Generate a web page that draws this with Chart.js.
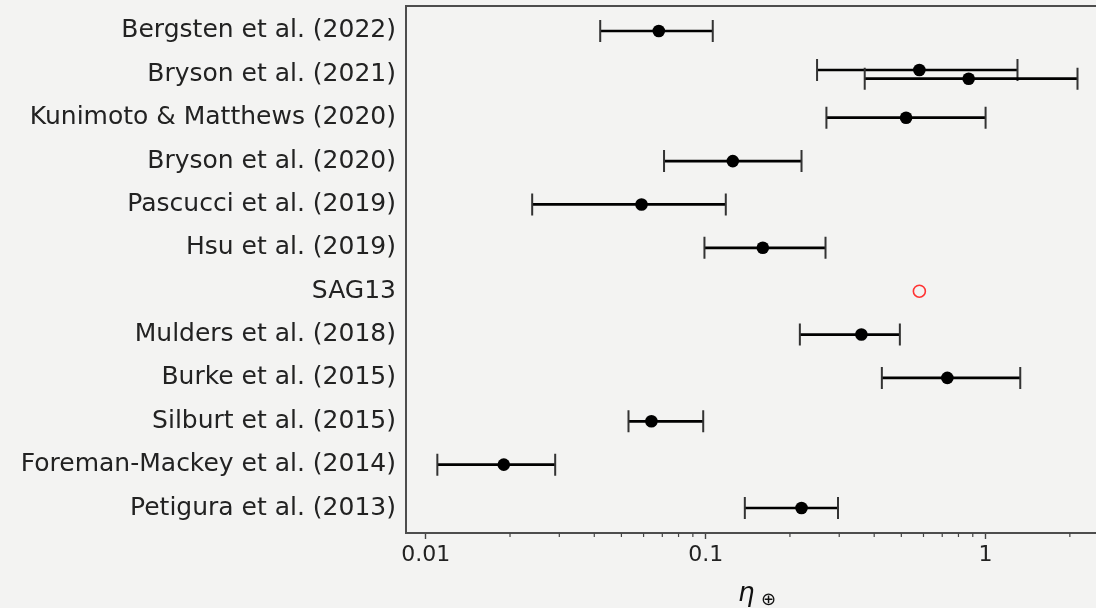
<!DOCTYPE html>
<html>
<head>
<meta charset="utf-8">
<script src="https://cdn.jsdelivr.net/npm/chart.js@4/dist/chart.umd.min.js"></script>
<style>
	html, body { margin: 0; padding: 0; background: #f3f3f2; }
	#chart { display: block; }
</style>
</head>
<body>
<canvas id="chart" width="1096" height="608"></canvas>
<script>
const studies = [
	'Bergsten et al. (2022)',
	'Bryson et al. (2021)',
	'Kunimoto & Matthews (2020)',
	'Bryson et al. (2020)',
	'Pascucci et al. (2019)',
	'Hsu et al. (2019)',
	'SAG13',
	'Mulders et al. (2018)',
	'Burke et al. (2015)',
	'Silburt et al. (2015)',
	'Foreman-Mackey et al. (2014)',
	'Petigura et al. (2013)'
];

// published estimates (black dots): row, central value, lower / upper bound
const measRow  = [0, 0.9, 1.1, 2, 3, 4, 5, 7, 8, 9, 10, 11];
const measEta  = [0.068, 0.58, 0.87, 0.52, 0.125, 0.059, 0.16, 0.36, 0.73, 0.064, 0.019, 0.22];
const measLow  = [0.042, 0.25, 0.37, 0.27, 0.071, 0.024, 0.099, 0.217, 0.426, 0.053, 0.011, 0.138];
const measHigh = [0.106, 1.30, 2.13, 1.00, 0.220, 0.118, 0.268, 0.494, 1.33, 0.098, 0.029, 0.297];

// SAG13 (red open circle, no error bar)
const sagRow = [6];
const sagEta = [0.58];

const xTicks = [0.01, 0.02, 0.03, 0.04, 0.05, 0.06, 0.07, 0.08, 0.09,
	0.1, 0.2, 0.3, 0.4, 0.5, 0.6, 0.7, 0.8, 0.9, 1, 2];
const xMajor = [0.01, 0.1, 1];
const xMajorLabels = ['0.01', '0.1', '1'];

const frameColor = '#4d4d4d';

const errorBars = {
	id: 'errorBars',
	beforeDatasetsDraw(chart) {
		const ctx = chart.ctx;
		const x = chart.scales.x;
		const y = chart.scales.y;
		ctx.save();
		for (let i = 0; i < measEta.length; i++) {
			const py = y.getPixelForValue(measRow[i]);
			const x0 = x.getPixelForValue(measLow[i]);
			const x1 = x.getPixelForValue(measHigh[i]);
			ctx.strokeStyle = '#000';
			ctx.lineWidth = 2.7;
			ctx.beginPath();
			ctx.moveTo(x0, py);
			ctx.lineTo(x1, py);
			ctx.stroke();
			ctx.strokeStyle = '#333';
			ctx.lineWidth = 2;
			ctx.beginPath();
			ctx.moveTo(x0, py - 11);
			ctx.lineTo(x0, py + 11);
			ctx.moveTo(x1, py - 11);
			ctx.lineTo(x1, py + 11);
			ctx.stroke();
		}
		ctx.restore();
	}
};

const frame = {
	id: 'frame',
	afterDraw(chart) {
		const ctx = chart.ctx;
		const area = chart.chartArea;
		const x = chart.scales.x;
		ctx.save();
		// top spine
		ctx.strokeStyle = frameColor;
		ctx.lineWidth = 2;
		ctx.beginPath();
		ctx.moveTo(area.left - 1, area.top);
		ctx.lineTo(area.right, area.top);
		ctx.stroke();
		// minor ticks
		ctx.lineWidth = 1.2;
		ctx.strokeStyle = '#444';
		ctx.beginPath();
		xTicks.forEach(v => {
			if (xMajor.includes(v)) return;
			const px = x.getPixelForValue(v);
			ctx.moveTo(px, area.bottom);
			ctx.lineTo(px, area.bottom + 4);
		});
		ctx.stroke();
		// axis label: eta with earth symbol
		const cx = (area.left + area.right) / 2 - 13;
		ctx.fillStyle = '#111';
		ctx.textBaseline = 'alphabetic';
		ctx.textAlign = 'left';
		ctx.font = 'italic 26px "DejaVu Sans"';
		ctx.fillText('η', cx, 601);
		ctx.font = '18px "DejaVu Sans"';
		ctx.fillText('⊕', cx + 23, 605);
		ctx.restore();
	}
};

function init() {
	const config = {
		type: 'scatter',
		data: {
			datasets: [
				{
					label: 'estimates',
					data: measEta.map((v, i) => ({ x: v, y: measRow[i] })),
					pointRadius: 6.3,
					pointBackgroundColor: '#000',
					pointBorderWidth: 0,
					clip: false
				},
				{
					label: 'SAG13',
					data: sagEta.map((v, i) => ({ x: v, y: sagRow[i] })),
					pointRadius: 6,
					pointBackgroundColor: 'rgba(0,0,0,0)',
					pointBorderColor: '#f33',
					pointBorderWidth: 1.6
				}
			]
		},
		options: {
			responsive: false,
			animation: false,
			layout: { autoPadding: false, padding: { top: 6, right: 0, left: 0, bottom: 0 } },
			plugins: {
				legend: { display: false },
				tooltip: { enabled: false }
			},
			scales: {
				x: {
					type: 'logarithmic',
					min: 0.0085,
					max: 2.48,
					afterBuildTicks: scale => { scale.ticks = xTicks.map(v => ({ value: v })); },
					afterFit: scale => { scale.height = 75; scale.paddingLeft = 0; scale.paddingRight = 0; },
					border: { display: true, color: frameColor, width: 2 },
					grid: {
						drawOnChartArea: false,
						drawTicks: true,
						tickLength: 6,
						tickWidth: 1.4,
						tickColor: ctx => xMajor.includes(ctx.tick && ctx.tick.value) ? '#444' : 'rgba(0,0,0,0)'
					},
					ticks: {
						autoSkip: false,
						maxRotation: 0,
						padding: 3,
						color: '#222',
						font: { family: '"DejaVu Sans"', size: 22 },
						callback: value => {
							const k = xMajor.indexOf(value);
							return k >= 0 ? xMajorLabels[k] : '';
						}
					}
				},
				y: {
					type: 'linear',
					reverse: true,
					min: -0.576,
					max: 11.576,
					afterBuildTicks: scale => { scale.ticks = studies.map((s, i) => ({ value: i })); },
					afterFit: scale => { scale.width = 406; scale.paddingTop = 0; scale.paddingBottom = 0; },
					border: { display: true, color: frameColor, width: 2 },
					grid: { display: true, drawOnChartArea: false, drawTicks: false },
					ticks: {
						autoSkip: false,
						padding: 10,
						color: '#222',
						font: { family: '"DejaVu Sans"', size: 25 },
						callback: value => studies[value]
					}
				}
			}
		},
		plugins: [errorBars, frame]
	};
	new Chart(document.getElementById('chart'), config);
}

init();
</script>
</body>
</html>
